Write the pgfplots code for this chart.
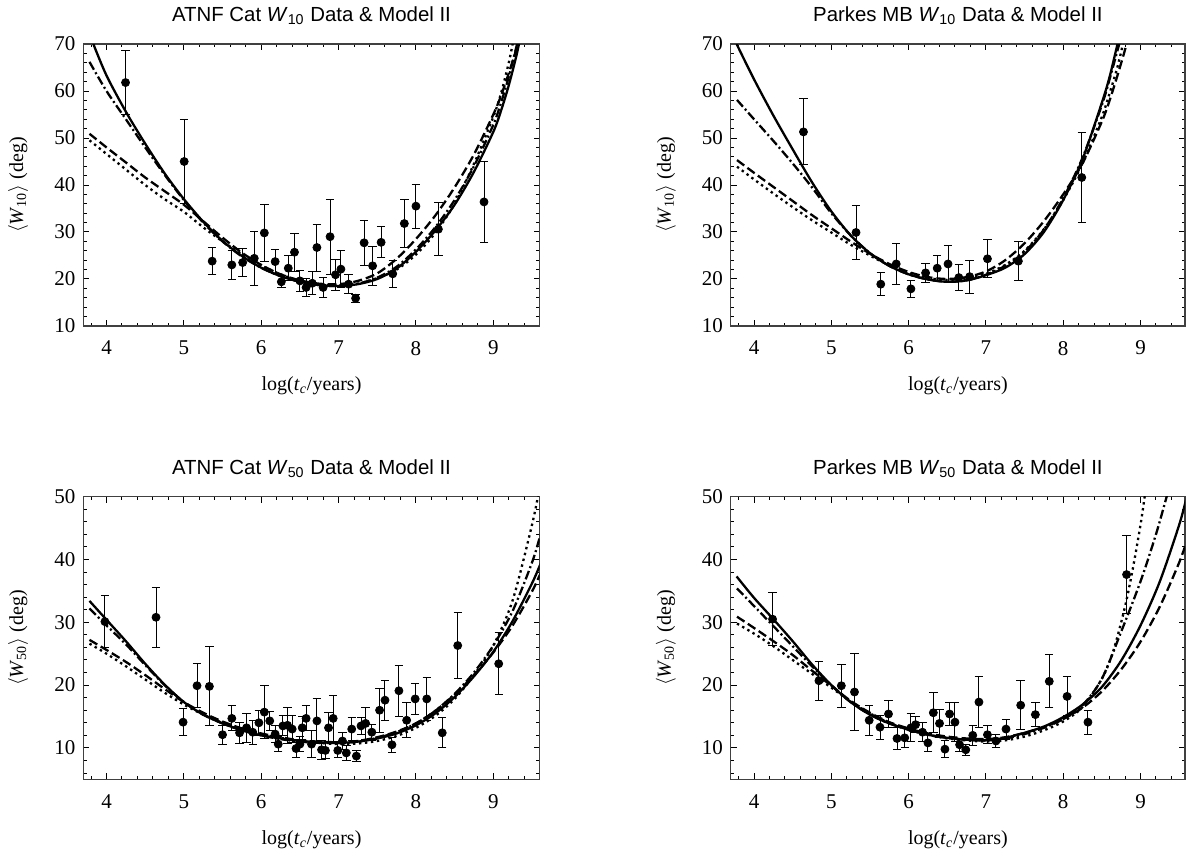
\documentclass[border=0pt]{standalone}
\usepackage{fontspec}
\setmainfont{Liberation Serif}
\setsansfont{Liberation Sans}
\usepackage{pgfplots}
\pgfplotsset{compat=1.18}

\pgfplotsset{
  myax/.style={
    scale only axis, anchor=south west,
    xmin=3.7, xmax=9.6,
    xtick={4,5,6,7,8,9},
    minor xtick={3.8,4.0,...,9.6},
    major tick length=3pt, minor tick length=1.7pt,
    tick align=inside, tick pos=both,
    tick style={black, line width=0.5pt},
    axis line style={black!75, line width=0.6pt},
    /pgf/number format/assume math mode=true,
    tick label style={font=\fontsize{10.5}{12}\selectfont},
    xticklabel style={yshift=-4pt},
    yticklabel style={xshift=-0.4pt},
    label style={font=\fontsize{11.5}{13}\selectfont},
    xlabel={log(\textit{t}\textsubscript{\textit{c}}/years)},
    every axis x label/.style={at={(axis description cs:0.5,0)}, anchor=base, yshift=-32.5pt},
    every axis y label/.style={at={(axis description cs:-0.143,0.5)}, anchor=center, rotate=90},
    every axis title/.style={at={(axis description cs:0.5,1)}, anchor=base, yshift=11.1pt,
      font=\sffamily\fontsize{10.2}{12}\selectfont},
    clip=true,
  },
  topax/.style={myax, ymin=10, ymax=70, ytick={10,20,...,70}, minor ytick={10,12,...,70},
    ylabel={$\langle$\textit{W}\textsubscript{10}$\rangle$ (deg)}},
  botax/.style={myax, ymin=5, ymax=50, ytick={10,20,...,50}, minor ytick={6,8,...,50},
    ylabel={$\langle$\textit{W}\textsubscript{50}$\rangle$ (deg)}},
  cS/.style={black, line width=1.15pt, smooth, mark=none},
  cD/.style={black, line width=1.15pt, smooth, mark=none, dash pattern=on 4.5pt off 2pt},
  cDD/.style={black, line width=1.15pt, smooth, mark=none, dash pattern=on 4.5pt off 1.5pt on 1pt off 1.5pt},
  cO/.style={black, line width=1.15pt, smooth, mark=none, dash pattern=on 1.2pt off 1.8pt},
  pts/.style={black, only marks, mark=*, mark size=2.0pt,
    error bars/.cd, y dir=both, y explicit,
    error bar style={line width=0.5pt, black},
    error mark options={rotate=90, mark size=2.1pt, line width=0.5pt, black}},
}

\begin{document}
\begin{tikzpicture}
\path[use as bounding box] (0,0) rectangle (593pt,428pt);

% ---------------- Top-left: ATNF W10 ----------------
\begin{axis}[topax, at={(41.65pt,265pt)}, width=228.2pt, height=141pt,
  title={ATNF Cat \textit{W}\textsubscript{10} Data \& Model II}]
\addplot[cS] coordinates {(3.83,70)(4.0,63.3)(4.25,55.6)(4.5,48.8)(4.75,42.5)(5.0,37.0)(5.25,32.2)(5.5,28.1)(5.75,24.9)(6.0,22.4)(6.25,20.6)(6.5,19.4)(6.75,18.7)(7.0,18.5)(7.25,18.9)(7.5,20.0)(7.75,22.2)(8.0,25.8)(8.25,30.3)(8.5,35.8)(8.75,42.8)(9.0,51.3)(9.1,55.8)(9.2,61.2)(9.3,67.6)(9.35,71.5)};
\addplot[cDD] coordinates {(3.78,66.2)(4.0,60.0)(4.25,54.0)(4.5,48.0)(4.75,42.2)(5.0,36.8)(5.25,32.0)(5.5,28.0)(5.75,24.8)(6.0,22.4)(6.25,20.6)(6.5,19.4)(6.75,18.7)(7.0,18.5)(7.25,19.0)(7.5,20.3)(7.75,22.6)(8.0,26.3)(8.25,31.0)(8.5,36.8)(8.75,44.0)(9.0,52.8)(9.1,57.5)(9.2,63)(9.3,69.5)(9.35,73)};
\addplot[cD] coordinates {(3.78,50.9)(4.0,48.0)(4.25,44.8)(4.5,41.6)(4.75,38.7)(5.0,35.8)(5.25,32.3)(5.5,28.8)(5.75,25.6)(6.0,23.0)(6.25,21.0)(6.5,19.7)(6.75,19.0)(7.0,18.9)(7.25,19.6)(7.5,21.2)(7.75,24.3)(8.0,28.5)(8.25,33.5)(8.5,39.5)(8.75,46.5)(9.0,55)(9.1,59)(9.2,63.8)(9.3,69)(9.33,71)};
\addplot[cO] coordinates {(3.78,49.5)(4.0,46.6)(4.25,43.3)(4.5,40.0)(4.75,37.0)(5.0,34.3)(5.25,31.0)(5.5,28.0)(5.75,25.3)(6.0,22.9)(6.25,21.0)(6.5,19.6)(6.75,18.8)(7.0,18.6)(7.25,19.0)(7.5,20.2)(7.75,22.0)(8.0,25.2)(8.25,29.8)(8.5,36)(8.75,44.5)(9.0,54.5)(9.1,59.5)(9.2,66)(9.25,70)(9.27,71.5)};
\addplot[pts] table[x index=0, y index=1, y error index=2, row sep=\\] {
4.246 61.8 6.8\\ 5.004 45.0 8.9\\ 5.366 23.8 2.9\\ 5.62 23.0 3.1\\ 5.76 23.5 3.0\\
5.91 24.4 5.7\\ 6.04 29.8 6.0\\ 6.18 23.7 2.5\\ 6.26 19.4 1.3\\ 6.35 22.3 2.6\\
6.43 25.7 4.0\\ 6.50 19.6 2.3\\ 6.58 18.2 2.0\\ 6.66 19.1 2.4\\ 6.72 26.7 5.0\\
6.80 18.2 2.1\\ 6.89 29.0 8.0\\ 6.96 20.9 3.3\\ 7.03 22.1 3.9\\ 7.13 18.9 2.0\\
7.22 15.9 0.9\\ 7.33 27.7 4.8\\ 7.44 22.8 4.2\\ 7.55 27.8 3.3\\ 7.70 21.1 2.9\\
7.85 31.8 5.1\\ 8.00 35.5 4.7\\ 8.29 30.6 5.7\\ 8.88 36.4 8.7\\
};
\end{axis}

% ---------------- Top-right: Parkes W10 ----------------
\begin{axis}[topax, at={(365.4pt,265pt)}, width=227.1pt, height=141pt, xmax=9.576,
  title={Parkes MB \textit{W}\textsubscript{10} Data \& Model II}]
\addplot[cS] coordinates {(3.775,70)(4.0,62.5)(4.25,54.8)(4.5,47.6)(4.75,40.6)(5.0,34.4)(5.25,29.3)(5.5,25.5)(5.75,22.8)(6.0,21.0)(6.25,19.9)(6.5,19.4)(6.75,19.7)(7.0,20.8)(7.25,22.4)(7.5,25.3)(7.75,30.0)(8.0,36.8)(8.25,45.5)(8.5,57.5)(8.6,63)(8.7,69.8)(8.75,73)};
\addplot[cDD] coordinates {(3.78,58.1)(4.0,54.0)(4.25,49.4)(4.5,44.6)(4.75,39.5)(5.0,34.0)(5.25,29.3)(5.5,25.5)(5.75,22.8)(6.0,21.0)(6.25,19.9)(6.5,19.4)(6.75,19.7)(7.0,20.9)(7.25,22.8)(7.5,25.8)(7.75,30.5)(8.0,37.2)(8.25,45.8)(8.5,57.0)(8.6,62.5)(8.7,68.5)(8.75,71.5)};
\addplot[cD] coordinates {(3.78,45.3)(4.0,42.6)(4.25,39.6)(4.5,36.6)(4.75,33.6)(5.0,30.8)(5.25,28.0)(5.5,25.4)(5.75,23.2)(6.0,21.5)(6.25,20.4)(6.5,20.0)(6.75,20.4)(7.0,21.6)(7.25,24.0)(7.5,27.6)(7.75,32.3)(8.0,38.0)(8.25,44.6)(8.5,53.5)(8.6,58.0)(8.7,63.2)(8.8,68.8)(8.83,71)};
\addplot[cO] coordinates {(3.78,43.9)(4.0,41.2)(4.25,38.2)(4.5,35.3)(4.75,32.5)(5.0,29.9)(5.25,27.3)(5.5,25.0)(5.75,22.9)(6.0,21.3)(6.25,20.2)(6.5,19.8)(6.75,20.1)(7.0,21.1)(7.25,23.0)(7.5,26.0)(7.75,30.6)(8.0,36.8)(8.25,44.6)(8.5,54.5)(8.6,59.5)(8.7,65)(8.78,70.5)};
\addplot[pts] table[x index=0, y index=1, y error index=2, row sep=\\] {
4.64 51.3 7.0\\ 5.32 29.9 5.7\\ 5.64 18.9 2.5\\ 5.84 23.2 4.4\\ 6.03 17.9 1.8\\
6.22 21.3 2.1\\ 6.37 22.3 2.7\\ 6.51 23.2 3.9\\ 6.65 20.3 2.7\\ 6.79 20.5 3.5\\
7.02 24.3 4.0\\ 7.42 23.8 4.1\\ 8.24 41.6 9.5\\
};
\end{axis}

% ---------------- Bottom-left: ATNF W50 ----------------
\begin{axis}[botax, at={(41.65pt,38.35pt)}, width=228.2pt, height=141.3pt,
  title={ATNF Cat \textit{W}\textsubscript{50} Data \& Model II}]
\addplot[cS] coordinates {(3.78,33.4)(4.0,30.4)(4.25,27.0)(4.5,23.4)(4.75,20.1)(5.0,17.3)(5.25,15.3)(5.5,13.9)(5.75,12.8)(6.0,12.0)(6.25,11.5)(6.5,11.1)(6.75,10.9)(7.0,10.8)(7.25,11.0)(7.5,11.5)(7.75,12.3)(8.0,13.6)(8.25,15.5)(8.5,18.1)(8.75,21.4)(9.0,25.3)(9.25,30.2)(9.5,36.2)(9.6,39.0)(9.65,40.5)};
\addplot[cDD] coordinates {(3.78,32.2)(4.0,29.5)(4.25,26.5)(4.5,23.2)(4.75,20.0)(5.0,17.3)(5.25,15.3)(5.5,13.9)(5.75,12.8)(6.0,12.0)(6.25,11.4)(6.5,11.0)(6.75,10.8)(7.0,10.8)(7.25,11.0)(7.5,11.6)(7.75,12.5)(8.0,13.9)(8.25,15.9)(8.5,18.6)(8.75,22.0)(9.0,26.3)(9.25,31.8)(9.5,39.5)(9.6,43.5)(9.65,45.5)};
\addplot[cD] coordinates {(3.78,27.2)(4.0,25.6)(4.25,23.7)(4.5,21.6)(4.75,19.4)(5.0,17.3)(5.25,15.6)(5.5,14.2)(5.75,13.1)(6.0,12.3)(6.25,11.7)(6.5,11.2)(6.75,11.0)(7.0,10.9)(7.25,11.1)(7.5,11.7)(7.75,12.6)(8.0,13.9)(8.25,15.9)(8.5,18.5)(8.75,21.6)(9.0,25.2)(9.25,29.5)(9.5,34.9)(9.6,37.5)(9.65,38.8)};
\addplot[cO] coordinates {(3.78,26.6)(4.0,25.0)(4.25,23.0)(4.5,20.9)(4.75,18.8)(5.0,16.9)(5.25,15.3)(5.5,14.0)(5.75,13.0)(6.0,12.2)(6.25,11.6)(6.5,11.1)(6.75,10.8)(7.0,10.6)(7.25,10.7)(7.5,11.1)(7.75,11.9)(8.0,13.2)(8.25,15.1)(8.5,17.8)(8.75,21.6)(9.0,26.3)(9.25,33.5)(9.5,45.5)(9.6,51.5)};
\addplot[pts] table[x index=0, y index=1, y error index=2, row sep=\\] {
3.98 30.1 4.1\\ 4.64 30.8 4.8\\ 4.99 14.1 2.2\\ 5.17 19.9 3.5\\ 5.33 19.8 6.3\\
5.50 12.1 1.5\\ 5.62 14.7 2.0\\ 5.72 12.4 1.7\\ 5.81 13.2 2.3\\ 5.89 12.5 1.9\\
5.97 14.0 2.0\\ 6.04 15.7 4.2\\ 6.11 14.3 1.5\\ 6.18 12.2 1.3\\ 6.22 10.6 1.2\\
6.28 13.5 1.6\\ 6.34 13.6 2.9\\ 6.40 13.0 2.2\\ 6.45 9.9 1.4\\ 6.50 10.6 1.2\\
6.53 13.2 1.8\\ 6.58 14.7 2.0\\ 6.65 10.6 2.1\\ 6.72 14.3 3.5\\ 6.78 9.7 1.5\\
6.83 9.6 1.3\\ 6.87 13.2 2.4\\ 6.93 14.7 3.7\\ 6.99 9.6 1.2\\ 7.05 11.1 1.4\\
7.10 9.2 1.2\\ 7.17 13.0 1.8\\ 7.23 8.7 0.9\\ 7.29 13.5 1.3\\ 7.35 13.9 2.5\\
7.43 12.5 1.3\\ 7.53 16.0 3.5\\ 7.60 17.6 3.2\\ 7.69 10.5 1.2\\ 7.78 19.1 4.1\\
7.88 14.4 2.8\\ 7.99 17.8 2.5\\ 8.14 17.8 3.4\\ 8.34 12.4 2.4\\ 8.54 26.3 5.2\\
9.07 23.4 4.9\\
};
\end{axis}

% ---------------- Bottom-right: Parkes W50 ----------------
\begin{axis}[botax, at={(365.4pt,38.35pt)}, width=227.1pt, height=141.3pt, xmax=9.576,
  title={Parkes MB \textit{W}\textsubscript{50} Data \& Model II}]
\addplot[cS] coordinates {(3.775,37.3)(4.0,33.9)(4.25,30.5)(4.5,27.0)(4.75,23.3)(5.0,20.0)(5.25,17.3)(5.5,15.3)(5.75,13.9)(6.0,12.9)(6.25,12.1)(6.5,11.6)(6.75,11.3)(7.0,11.2)(7.25,11.6)(7.5,12.4)(7.75,13.4)(8.0,14.9)(8.25,16.9)(8.5,19.7)(8.75,23.9)(9.0,29.5)(9.25,36.5)(9.5,45.5)(9.6,50.0)(9.65,52)};
\addplot[cDD] coordinates {(3.78,35.4)(4.0,32.6)(4.25,29.4)(4.5,26.2)(4.75,23.0)(5.0,20.0)(5.25,17.3)(5.5,15.3)(5.75,13.9)(6.0,12.9)(6.25,12.1)(6.5,11.6)(6.75,11.3)(7.0,11.2)(7.25,11.5)(7.5,12.2)(7.75,13.2)(8.0,14.6)(8.25,16.8)(8.5,21.0)(8.75,28.5)(9.0,36.5)(9.2,44.0)(9.35,50.5)(9.4,52.5)};
\addplot[cD] coordinates {(3.78,30.9)(4.0,29.1)(4.25,27.0)(4.5,24.8)(4.75,22.3)(5.0,19.9)(5.25,17.5)(5.5,15.6)(5.75,14.1)(6.0,13.1)(6.25,12.3)(6.5,11.8)(6.75,11.5)(7.0,11.4)(7.25,11.7)(7.5,12.4)(7.75,13.3)(8.0,14.6)(8.25,16.4)(8.5,19.0)(8.75,22.5)(9.0,26.9)(9.25,32.5)(9.5,39.5)(9.6,43)};
\addplot[cO] coordinates {(3.78,29.8)(4.0,28.2)(4.25,26.2)(4.5,24.0)(4.75,21.8)(5.0,19.6)(5.25,17.4)(5.5,15.5)(5.75,14.0)(6.0,12.9)(6.25,12.1)(6.5,11.5)(6.75,11.2)(7.0,11.0)(7.25,11.2)(7.5,11.8)(7.75,12.8)(8.0,14.2)(8.25,16.5)(8.5,21.0)(8.65,25.5)(8.8,32.5)(8.9,38.5)(9.0,45.5)(9.06,50.5)};
\addplot[pts] table[x index=0, y index=1, y error index=2, row sep=\\] {
4.24 30.5 4.2\\ 4.84 20.7 3.1\\ 5.13 19.9 3.4\\ 5.30 18.9 6.1\\ 5.49 14.4 2.4\\
5.63 13.3 1.9\\ 5.74 15.4 2.2\\ 5.85 11.5 1.7\\ 5.95 11.6 1.6\\ 6.03 13.2 2.2\\
6.09 13.7 1.3\\ 6.18 12.5 1.5\\ 6.25 10.8 1.3\\ 6.32 15.6 3.2\\ 6.40 13.9 2.2\\
6.47 9.8 1.4\\ 6.53 15.4 1.9\\ 6.60 14.1 3.1\\ 6.66 10.5 1.0\\ 6.74 9.7 0.9\\
6.83 12.0 1.6\\ 6.91 17.3 4.0\\ 7.02 12.1 1.4\\ 7.13 11.1 1.1\\ 7.26 13.0 1.6\\
7.45 16.8 3.9\\ 7.64 15.3 1.9\\ 7.82 20.6 4.2\\ 8.05 18.2 3.1\\ 8.32 14.1 1.9\\
8.82 37.6 6.2\\
};
\end{axis}
\end{tikzpicture}
\end{document}
